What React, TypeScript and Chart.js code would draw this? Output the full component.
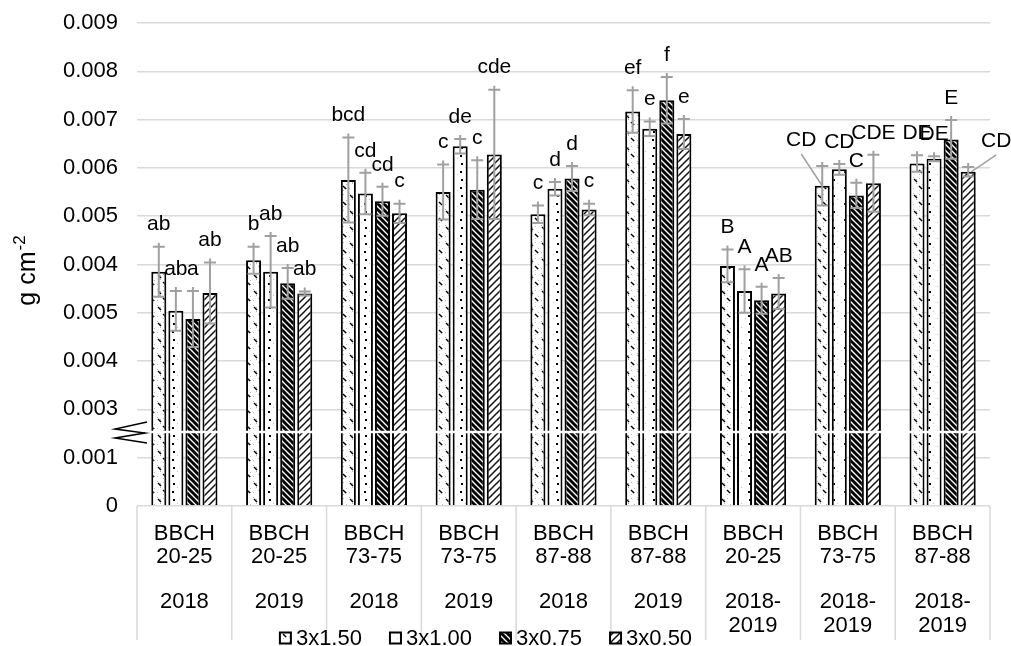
import React, { useEffect, useRef } from "react";
import { Chart, registerables } from "chart.js";

Chart.register(...registerables);

// ---------- data ----------
const CATEGORY_STAGES: string[][] = [
  ["BBCH", "20-25"],
  ["BBCH", "20-25"],
  ["BBCH", "73-75"],
  ["BBCH", "73-75"],
  ["BBCH", "87-88"],
  ["BBCH", "87-88"],
  ["BBCH", "20-25"],
  ["BBCH", "73-75"],
  ["BBCH", "87-88"],
];
const CATEGORY_YEARS: string[][] = [
  ["2018"],
  ["2019"],
  ["2018"],
  ["2019"],
  ["2018"],
  ["2019"],
  ["2018-", "2019"],
  ["2018-", "2019"],
  ["2018-", "2019"],
];
const SERIES_NAMES = ["3x1.50", "3x1.00", "3x0.75", "3x0.50"];

// bar heights as drawn on the (broken) axis
const VALUES_150 = [0.00485, 0.00509, 0.00675, 0.0065, 0.00604, 0.00817, 0.00497, 0.00663, 0.00709];
const VALUES_100 = [0.00404, 0.00485, 0.00647, 0.00745, 0.00657, 0.00781, 0.00445, 0.00697, 0.00719];
const VALUES_075 = [0.00387, 0.00461, 0.00631, 0.00655, 0.00678, 0.0084, 0.00426, 0.00643, 0.00759];
const VALUES_050 = [0.00441, 0.0044, 0.00606, 0.00728, 0.00614, 0.0077, 0.0044, 0.00668, 0.00692];

const ERRORS_150 = [0.00052, 0.00028, 0.00088, 0.00057, 0.00018, 0.00044, 0.00034, 0.00041, 0.00017];
const ERRORS_100 = [0.00041, 0.00074, 0.00043, 0.00015, 0.00014, 0.00015, 0.00045, 0.00011, 0.00005];
const ERRORS_075 = [0.00058, 0.00032, 0.0003, 0.00061, 0.00026, 0.00048, 0.00028, 0.00026, 0.0004];
const ERRORS_050 = [0.00063, 0.00004, 0.0002, 0.00134, 0.00012, 0.00031, 0.00032, 0.00059, 0.0001];

const LETTERS_150 = ["ab", "b", "bcd", "c", "c", "ef", "B", "CD", "DE"];
const LETTERS_100 = ["ab", "ab", "cd", "de", "d", "e", "A", "CD", "DE"];
const LETTERS_075 = ["a", "ab", "cd", "c", "d", "f", "A", "C", "E"];
const LETTERS_050 = ["ab", "ab", "c", "cde", "c", "e", "AB", "CDE", "CD"];

const Y_TICK_LABELS = ["0", "0.001", "0.003", "0.004", "0.005", "0.004", "0.005", "0.006", "0.007", "0.008", "0.009"];
const AXIS_BREAK = 0.00153;
const Y_TITLE = "g cm";
const Y_TITLE_SUP = "-2";

const VALUES = [VALUES_150, VALUES_100, VALUES_075, VALUES_050];
const ERRORS = [ERRORS_150, ERRORS_100, ERRORS_075, ERRORS_050];
const LETTERS = [LETTERS_150, LETTERS_100, LETTERS_075, LETTERS_050];

// ---------- style ----------
const FONT = "'Liberation Sans', Arial, sans-serif";
const GRID = "#d9d9d9";
const ERR_COLOR = "#a0a0a0";
// leader-line labels: [series, category, dx, dy]
const LEADER_LABELS: number[][] = [
  [0, 7, -21, -26],
  [3, 8, 28, -26],
];

function makePattern(kind: number): CanvasPattern | string {
  const c = document.createElement("canvas");
  const g = c.getContext("2d");
  if (!g) return "#fff";
  if (kind === 0) {
    c.width = 12; c.height = 16;
    g.fillStyle = "#fff"; g.fillRect(0, 0, 12, 16);
    g.fillStyle = "#b8b8b8";
    [[1, 1], [7, 2], [4, 7], [10, 8], [1, 12], [7, 14], [10, 12], [4, 3]].forEach(([x, y]) => g.fillRect(x, y, 1, 1));
    g.strokeStyle = "#000"; g.lineWidth = 1.4;
    g.beginPath(); g.moveTo(2, 3); g.lineTo(5, 6); g.stroke();
    g.beginPath(); g.moveTo(7, 10); g.lineTo(10, 13); g.stroke();
  } else if (kind === 1) {
    c.width = 12; c.height = 16;
    g.fillStyle = "#fff"; g.fillRect(0, 0, 12, 16);
    g.fillStyle = "#000";
    g.fillRect(5, 3, 2, 2);
    g.fillRect(4, 11, 2, 2);
    g.fillStyle = "#c8c8c8";
    g.fillRect(9, 7, 1, 1); g.fillRect(1, 14, 1, 1);
  } else if (kind === 2) {
    c.width = 6; c.height = 6;
    g.fillStyle = "#fff"; g.fillRect(0, 0, 6, 6);
    g.strokeStyle = "#000"; g.lineWidth = 3;
    for (let k = -1; k <= 1; k++) {
      g.beginPath(); g.moveTo(k * 6 - 1, -1); g.lineTo(k * 6 + 7, 7); g.stroke();
    }
  } else {
    c.width = 7; c.height = 7;
    g.fillStyle = "#fff"; g.fillRect(0, 0, 7, 7);
    g.strokeStyle = "#111"; g.lineWidth = 1.5;
    for (let k = -1; k <= 1; k++) {
      g.beginPath(); g.moveTo(k * 7 - 1, 8); g.lineTo(k * 7 + 8, -1); g.stroke();
    }
  }
  const p = g.createPattern(c, "repeat");
  return p || "#fff";
}

const overlayPlugin = {
  id: "overlay",
  afterDatasetsDraw(chart: any) {
    const ctx: CanvasRenderingContext2D = chart.ctx;
    const ys = chart.scales.y;
    const area = chart.chartArea;
    ctx.save();
    // axis break line
    const yb = ys.getPixelForValue(AXIS_BREAK);
    ctx.strokeStyle = "#fff";
    ctx.lineWidth = 2.5;
    ctx.beginPath(); ctx.moveTo(area.left, yb); ctx.lineTo(area.right, yb); ctx.stroke();
    // zigzag
    ctx.strokeStyle = "#000";
    ctx.lineWidth = 1.5;
    ctx.beginPath();
    const zx = area.left;
    ctx.moveTo(zx + 10, yb - 10);
    ctx.lineTo(zx - 22, yb - 3);
    ctx.lineTo(zx + 8, yb + 1);
    ctx.lineTo(zx - 22, yb + 6);
    ctx.lineTo(zx + 10, yb + 11);
    ctx.stroke();

    // error bars
    ctx.strokeStyle = ERR_COLOR;
    ctx.lineWidth = 2;
    chart.data.datasets.forEach((ds: any, di: number) => {
      const meta = chart.getDatasetMeta(di);
      meta.data.forEach((bar: any, i: number) => {
        const v = ds.data[i];
        const e = ERRORS[di][i];
        const x = bar.x;
        const t = ys.getPixelForValue(v + e);
        const b = ys.getPixelForValue(v - e);
        ctx.beginPath();
        ctx.moveTo(x, t - 4); ctx.lineTo(x, b);
        ctx.moveTo(x - 6, t); ctx.lineTo(x + 6, t);
        ctx.moveTo(x - 6, b); ctx.lineTo(x + 6, b);
        ctx.stroke();
      });
    });

    // letters
    ctx.fillStyle = "#000";
    ctx.font = `21px ${FONT}`;
    ctx.textAlign = "center";
    ctx.textBaseline = "middle";
    chart.data.datasets.forEach((ds: any, di: number) => {
      const meta = chart.getDatasetMeta(di);
      meta.data.forEach((bar: any, i: number) => {
        const v = ds.data[i];
        const e = ERRORS[di][i];
        const t = ys.getPixelForValue(v + e);
        const leader = LEADER_LABELS.find((l) => l[0] === di && l[1] === i);
        if (leader) {
          const lx = bar.x + leader[2];
          const ly = t + leader[3];
          ctx.fillText(LETTERS[di][i], lx, ly);
          ctx.strokeStyle = ERR_COLOR;
          ctx.lineWidth = 1.5;
          ctx.beginPath();
          ctx.moveTo(lx, ly + 14);
          ctx.lineTo(bar.x + (leader[2] < 0 ? 0 : 3), bar.y);
          ctx.stroke();
        } else {
          ctx.fillText(LETTERS[di][i], bar.x, t - 22);
        }
      });
    });
    ctx.restore();
  },
  afterDraw(chart: any) {
    const ctx: CanvasRenderingContext2D = chart.ctx;
    const area = chart.chartArea;
    const n = CATEGORY_YEARS.length;
    const w = (area.right - area.left) / n;
    ctx.save();
    // category dividers
    ctx.strokeStyle = GRID;
    ctx.lineWidth = 1.5;
    for (let i = 0; i <= n; i++) {
      const x = area.left + i * w;
      ctx.beginPath(); ctx.moveTo(x, area.bottom); ctx.lineTo(x, area.bottom + 134); ctx.stroke();
    }
    // years
    ctx.fillStyle = "#000";
    ctx.font = `22px ${FONT}`;
    ctx.textAlign = "center";
    ctx.textBaseline = "middle";
    CATEGORY_YEARS.forEach((lines, i) => {
      const cx = area.left + (i + 0.5) * w;
      lines.forEach((s, k) => ctx.fillText(s, cx, area.bottom + 96 + k * 24.3));
    });
    // legend
    const ly = area.bottom + 132;
    const gap = 28;
    const widths = SERIES_NAMES.map((s) => 16 + ctx.measureText(s).width);
    const total = widths.reduce((a, b) => a + b, 0) + gap * (SERIES_NAMES.length - 1);
    let x = 486 - total / 2;
    ctx.textAlign = "left";
    SERIES_NAMES.forEach((s, i) => {
      ctx.fillStyle = chart.data.datasets[i].backgroundColor;
      ctx.fillRect(x, ly - 5.5, 11, 11);
      ctx.strokeStyle = "#000";
      ctx.lineWidth = 2;
      ctx.strokeRect(x, ly - 5.5, 11, 11);
      ctx.fillStyle = "#000";
      ctx.fillText(s, x + 16, ly + 1);
      x += widths[i] + gap;
    });
    // y title with superscript
    ctx.translate(35, 271);
    ctx.rotate(-Math.PI / 2);
    ctx.textBaseline = "alphabetic";
    ctx.font = `25px ${FONT}`;
    const w1 = ctx.measureText(Y_TITLE).width;
    ctx.font = `17px ${FONT}`;
    const w2 = ctx.measureText(Y_TITLE_SUP).width;
    const sx = -(w1 + w2) / 2;
    ctx.font = `25px ${FONT}`;
    ctx.fillText(Y_TITLE, sx, 0);
    ctx.font = `17px ${FONT}`;
    ctx.fillText(Y_TITLE_SUP, sx + w1 + 1, -10);
    ctx.restore();
  },
};

export default function App() {
  const ref = useRef<HTMLCanvasElement | null>(null);
  useEffect(() => {
    if (!ref.current) return;
    const datasets = VALUES.map((vals, i) => ({
      label: SERIES_NAMES[i],
      data: vals,
      backgroundColor: makePattern(i) as any,
      borderColor: "#000",
      borderWidth: 2,
      categoryPercentage: 0.72,
      barPercentage: 0.88,
    }));
    const chart = new Chart(ref.current, {
      type: "bar",
      data: { labels: CATEGORY_STAGES as any, datasets },
      options: {
        responsive: false,
        animation: false,
        layout: { padding: { top: 23, right: 21, left: 0, bottom: 0 } },
        plugins: { legend: { display: false }, tooltip: { enabled: false } },
        scales: {
          x: {
            grid: { display: false, drawTicks: false },
            border: { display: false },
            ticks: {
              color: "#000",
              font: { family: FONT, size: 22, lineHeight: 1.07 },
              padding: 16,
              autoSkip: false,
              maxRotation: 0,
              minRotation: 0,
            },
            afterFit: (s: any) => { s.height = 140; },
          },
          y: {
            min: 0,
            max: 0.01,
            grid: { color: GRID, lineWidth: 1.5, drawTicks: false },
            border: { display: false },
            ticks: {
              stepSize: 0.001,
              color: "#000",
              font: { family: FONT, size: 22 },
              padding: 19,
              callback: (_v: any, i: number) => Y_TICK_LABELS[i],
            },
            afterFit: (s: any) => {
              s.width = 137;
              s.paddingTop = 0;
              s.paddingBottom = 0;
            },
          },
        },
      },
      plugins: [overlayPlugin],
    });
    return () => chart.destroy();
  }, []);
  return (
    <div style={{ position: "fixed", left: 0, top: 0, width: 1011, height: 646, background: "#fff" }}>
      <canvas ref={ref} width={1011} height={646} />
    </div>
  );
}
